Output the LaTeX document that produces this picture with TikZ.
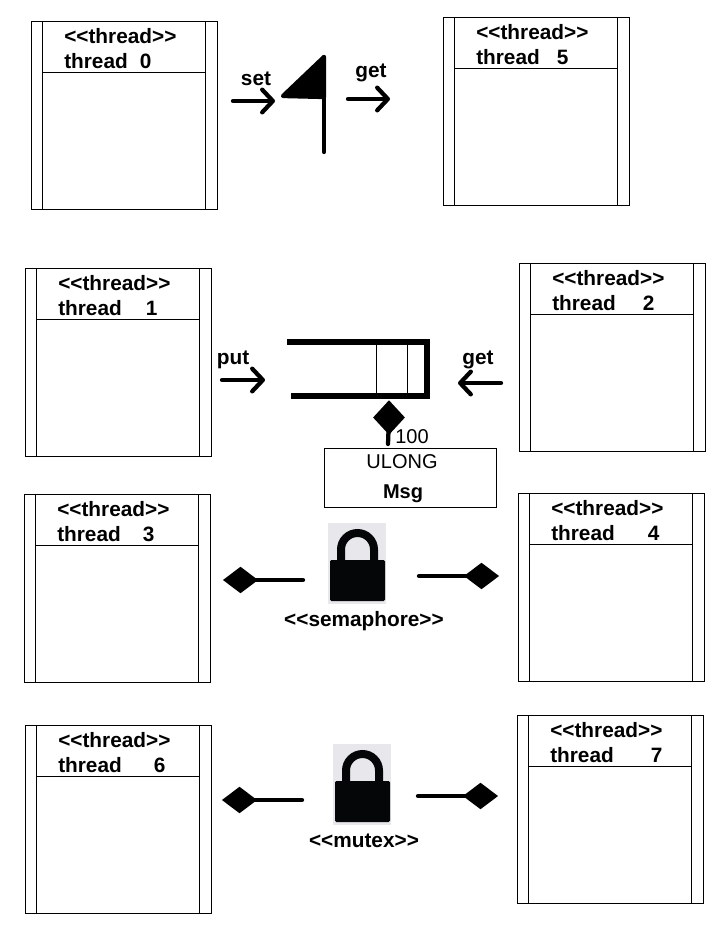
\documentclass[tikz,border=0pt]{standalone}
\usepackage{fontspec}
\setmainfont{Liberation Sans}
\usetikzlibrary{shapes.geometric,arrows.meta}
\definecolor{lockbg}{HTML}{E8E8EC}
\definecolor{lockfg}{HTML}{050608}
\tikzset{
  x=.75pt,y=-.75pt,
  thin line/.style={draw=black,line width=.75pt},
  threadbox/.style={thin line,rectangle,anchor=north west,inner sep=0pt,minimum width=139.5pt,minimum height=141pt},
  boldtext/.style={font=\fontsize{15.6pt}{18pt}\selectfont\bfseries,anchor=base,inner sep=0pt},
  boldleft/.style={boldtext,anchor=base west},
  plaintext/.style={font=\fontsize{15pt}{18pt}\selectfont,anchor=base,inner sep=0pt},
  heavy/.style={line width=3.2pt,line cap=round,line join=round},
  barb/.style={heavy,-{Straight Barb[round,length=8pt,width=17pt,line width=3.2pt]}},
  solid diamond/.style={diamond,fill=black,inner sep=0pt,minimum width=26.5pt,minimum height=20pt},
  solid diamond tall/.style={diamond,fill=black,inner sep=0pt,minimum width=24pt,minimum height=26pt},
  lockback/.style={fill=lockbg,draw=none,rectangle,anchor=north west,inner sep=0pt,minimum width=43.5pt,minimum height=60.75pt},
}
\newcommand{\threadunit}[5]{%
  \node[threadbox] (#1) at (#2,#3) {};
  \begin{scope}[shift={(#2,#3)}]
    \draw[thin line] (11,0) -- (11,188);
    \draw[thin line] (174,0) -- (174,188);
    \draw[thin line] (11,51) -- (174,51);
    \node[boldleft] (#1s) at (33,22.5) {<{}<thread>{}>};
    \node[boldleft] (#1n) at (33,47) {thread\hspace{#4pt}#5};
  \end{scope}}
\newcommand{\lockunit}[3]{%
  \node[lockback] (#1) at (#2,#3) {};
  \begin{scope}[shift={(#2,#3)}]
    \draw[lockfg,line width=6pt] (13,42) -- (13,26.5) arc[start angle=180,end angle=360,radius=16.5] -- (46,42);
    \fill[lockfg,rounded corners=1pt] (2,37) rectangle (57,78);
  \end{scope}}
\begin{document}
\begin{tikzpicture}
\useasboundingbox (0,0) rectangle (722,943);
\threadunit{t0}{31}{21}{9}{0}
\threadunit{t5}{443}{17}{12.75}{5}
\threadunit{t1}{25}{268}{18}{1}
\threadunit{t2}{519}{263}{20.25}{2}
\threadunit{t3}{24}{494}{16.5}{3}
\threadunit{t4}{518}{493}{24.75}{4}
\threadunit{t6}{25}{725}{24}{6}
\threadunit{t7}{517}{715}{27.75}{7}
% event flag
\coordinate (flagtop) at (324,57);
\coordinate (flagtip) at (283,96);
\coordinate (flagmid) at (324,97);
\coordinate (flagfoot) at (324,152);
\draw[heavy,fill=black] (flagtop) -- (flagtip) -- (flagmid) -- cycle;
\draw[heavy] (flagtop) -- (flagfoot);
\coordinate (seta) at (233,101); \coordinate (setb) at (275,101);
\coordinate (geta) at (348,99); \coordinate (getb) at (390,99);
\draw[barb] (seta) -- (setb);
\draw[barb] (geta) -- (getb);
\node[boldtext] (setl) at (256,85) {set};
\node[boldtext] (getl) at (371,77) {get};
% queue
\coordinate (qa) at (287,342); \coordinate (qb) at (427,342);
\coordinate (qc) at (427,396); \coordinate (qd) at (291,396);
\draw[line width=4pt,line join=miter] (qa) -- (qb) -- (qc) -- (qd);
\draw[thin line] (376,342) -- (376,396);
\draw[thin line] (407,342) -- (407,396);
\coordinate (puta) at (222,380); \coordinate (putb) at (265,380);
\coordinate (g2a) at (501,383); \coordinate (g2b) at (458,383);
\draw[barb] (puta) -- (putb);
\draw[barb] (g2a) -- (g2b);
\node[boldtext] (putl) at (233,364) {put};
\node[boldtext] (get2l) at (478,364) {get};
% message box
\node[thin line,rectangle,anchor=north west,inner sep=0pt,minimum width=129pt,minimum height=44.25pt] (msg) at (324,448) {};
\node[solid diamond tall] (qd1) at (389,417.5) {};
\coordinate (qd2) at (388,444);
\draw[heavy] (qd1.center) -- (qd2);
\node[plaintext,anchor=base west] (cnt) at (395,443) {100};
\node[plaintext] (ulong) at (402,468) {ULONG};
\node[boldtext,font=\fontsize{15pt}{18pt}\selectfont\bfseries] (msgl) at (403,498) {Msg};
% semaphore
\lockunit{sem}{328}{523}
\node[boldtext] (seml) at (364,626) {<{}<semaphore>{}>};
\node[solid diamond] (sd1) at (240.5,580) {};
\coordinate (sd1e) at (303,580);
\draw[heavy] (sd1.center) -- (sd1e);
\node[solid diamond] (sd2) at (481.5,576) {};
\coordinate (sd2e) at (419,576);
\draw[heavy] (sd2.center) -- (sd2e);
% mutex
\lockunit{mut}{333}{744}
\node[boldtext] (mutl) at (364,847) {<{}<mutex>{}>};
\node[solid diamond] (md1) at (239.5,800) {};
\coordinate (md1e) at (302,800);
\draw[heavy] (md1.center) -- (md1e);
\node[solid diamond] (md2) at (480.5,796) {};
\coordinate (md2e) at (418,796);
\draw[heavy] (md2.center) -- (md2e);
\end{tikzpicture}
\end{document}
